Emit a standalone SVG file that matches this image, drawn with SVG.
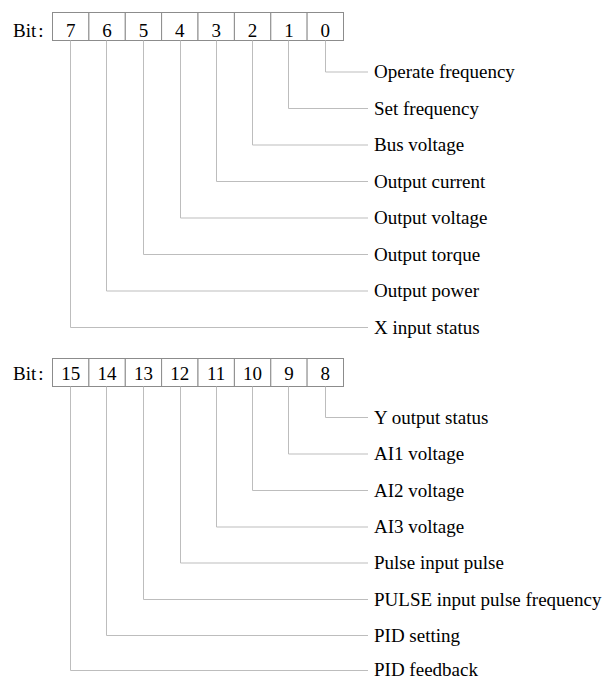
<svg xmlns="http://www.w3.org/2000/svg" width="607" height="680" viewBox="0 0 607 680">
<style>
text{font-family:"Liberation Serif","Times New Roman",serif;font-size:19px;fill:#000}
.cell{fill:#fff;stroke:#8c8c8c;stroke-width:1}
.num{text-anchor:middle}
.conn path{fill:none;stroke:#bdbdbd;stroke-width:1}
</style>
<rect width="607" height="680" fill="#fff"/>
<g id="register-low">
<text x="13" y="37">Bit<tspan dx="2">:</tspan></text>
<rect class="cell" x="52.5" y="12.5" width="36.4" height="28"/>
<rect class="cell" x="88.9" y="12.5" width="36.4" height="28"/>
<rect class="cell" x="125.3" y="12.5" width="36.4" height="28"/>
<rect class="cell" x="161.6" y="12.5" width="36.4" height="28"/>
<rect class="cell" x="198" y="12.5" width="36.4" height="28"/>
<rect class="cell" x="234.4" y="12.5" width="36.4" height="28"/>
<rect class="cell" x="270.8" y="12.5" width="36.4" height="28"/>
<rect class="cell" x="307.1" y="12.5" width="36.4" height="28"/>
<text class="num" x="70.7" y="37">7</text>
<text class="num" x="107.1" y="37">6</text>
<text class="num" x="143.4" y="37">5</text>
<text class="num" x="179.8" y="37">4</text>
<text class="num" x="216.2" y="37">3</text>
<text class="num" x="252.6" y="37">2</text>
<text class="num" x="288.9" y="37">1</text>
<text class="num" x="325.3" y="37">0</text>
</g>
<g id="register-high">
<text x="13" y="379.5">Bit<tspan dx="2">:</tspan></text>
<rect class="cell" x="52.5" y="358.5" width="36.4" height="28"/>
<rect class="cell" x="88.9" y="358.5" width="36.4" height="28"/>
<rect class="cell" x="125.3" y="358.5" width="36.4" height="28"/>
<rect class="cell" x="161.6" y="358.5" width="36.4" height="28"/>
<rect class="cell" x="198" y="358.5" width="36.4" height="28"/>
<rect class="cell" x="234.4" y="358.5" width="36.4" height="28"/>
<rect class="cell" x="270.8" y="358.5" width="36.4" height="28"/>
<rect class="cell" x="307.1" y="358.5" width="36.4" height="28"/>
<text class="num" x="70.7" y="379.5">15</text>
<text class="num" x="107.1" y="379.5">14</text>
<text class="num" x="143.4" y="379.5">13</text>
<text class="num" x="179.8" y="379.5">12</text>
<text class="num" x="216.2" y="379.5">11</text>
<text class="num" x="252.6" y="379.5">10</text>
<text class="num" x="288.9" y="379.5">9</text>
<text class="num" x="325.3" y="379.5">8</text>
</g>
<g id="connectors" class="conn">
<path d="M325.5 40.5V72H368"/>
<path d="M288.5 40.5V108.5H368"/>
<path d="M252.5 40.5V145H368"/>
<path d="M216.5 40.5V181.5H368"/>
<path d="M180.5 40.5V218H368"/>
<path d="M143.5 40.5V254.5H368"/>
<path d="M106.5 40.5V291H368"/>
<path d="M70.5 40.5V327.5H368"/>
<path d="M325.5 386.5V417.5H368"/>
<path d="M288.5 386.5V454H368"/>
<path d="M252.5 386.5V490.5H368"/>
<path d="M216.5 386.5V527H368"/>
<path d="M180.5 386.5V563H368"/>
<path d="M143.5 386.5V599.5H368"/>
<path d="M106.5 386.5V635.5H368"/>
<path d="M70.5 386.5V670.5H368"/>
</g>
<g id="label-b0"><text x="374" y="78">Operate frequency</text></g>
<g id="label-b1"><text x="374" y="114.5">Set frequency</text></g>
<g id="label-b2"><text x="374" y="151">Bus voltage</text></g>
<g id="label-b3"><text x="374" y="187.5">Output current</text></g>
<g id="label-b4"><text x="374" y="224">Output voltage</text></g>
<g id="label-b5"><text x="374" y="260.5">Output torque</text></g>
<g id="label-b6"><text x="374" y="297">Output power</text></g>
<g id="label-b7"><text x="374" y="333.5">X input status</text></g>
<g id="label-b8"><text x="374" y="423.5">Y output status</text></g>
<g id="label-b9"><text x="374" y="460">AI1 voltage</text></g>
<g id="label-b10"><text x="374" y="496.5">AI2 voltage</text></g>
<g id="label-b11"><text x="374" y="533">AI3 voltage</text></g>
<g id="label-b12"><text x="374" y="569">Pulse input pulse</text></g>
<g id="label-b13"><text x="374" y="605.5">PULSE input pulse frequency</text></g>
<g id="label-b14"><text x="374" y="641.5">PID setting</text></g>
<g id="label-b15"><text x="374" y="675.5">PID feedback</text></g>
</svg>
